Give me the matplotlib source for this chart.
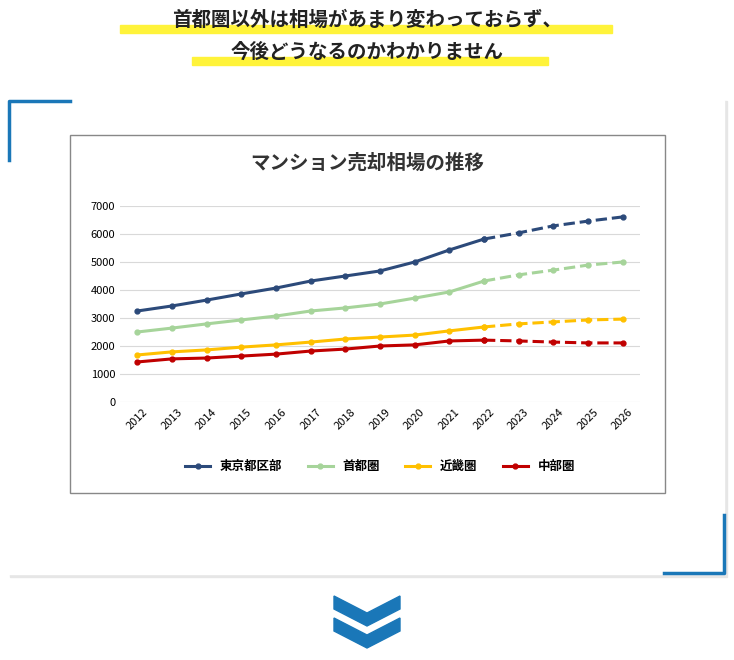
import matplotlib
matplotlib.use("Agg")
import matplotlib.pyplot as plt
from matplotlib.patches import Rectangle, Polygon

plt.rcParams["font.family"] = "Noto Sans CJK JP"

years = [str(y) for y in range(2012, 2027)]
tokyo = [3250, 3430, 3640, 3860, 4070, 4320, 4500, 4680, 5000, 5430, 5820, 6040, 6290, 6460, 6610]
shuto = [2500, 2640, 2790, 2930, 3070, 3250, 3360, 3500, 3710, 3930, 4320, 4540, 4710, 4890, 5000]
kinki = [1680, 1790, 1860, 1960, 2040, 2140, 2250, 2320, 2390, 2540, 2680, 2790, 2860, 2930, 2960]
chubu = [1430, 1540, 1570, 1640, 1710, 1820, 1890, 2000, 2040, 2180, 2210, 2180, 2140, 2110, 2110]
names = ["東京都区部", "首都圏", "近畿圏", "中部圏"]
colors = ["#2c4a7a", "#a6d49a", "#ffc000", "#c00000"]
split = 10  # index of 2022, forecast after

W, H = 734, 660
fig = plt.figure(figsize=(W / 100, H / 100), dpi=100)
fig.patch.set_facecolor("white")

def fx(x): return x / W
def fy(y): return 1 - y / H

# heading with highlighter
for txt, y, x0, x1 in [("首都圏以外は相場があまり変わっておらず、", 20, 120, 612),
                       ("今後どうなるのかわかりません", 52, 192, 548)]:
    fig.patches.append(Rectangle((fx(x0), fy(y + 13)), fx(x1 - x0), 8 / H,
                                 transform=fig.transFigure, color="#fff33a", zorder=1))
    fig.text(fx(367), fy(y), txt, ha="center", va="center", fontsize=14,
             fontweight="bold", color="#222222", zorder=2)

# card with shadow
fig.patches.append(Rectangle((fx(10), fy(577)), fx(717), 476 / H, transform=fig.transFigure,
                             color="#e6e6e6", zorder=0))
fig.patches.append(Rectangle((fx(8), fy(574)), fx(716), 474 / H, transform=fig.transFigure,
                             color="white", zorder=0.5))
blue = "#1a77b8"
fig.lines.append(plt.Line2D([fx(9), fx(9), fx(70)], [fy(160), fy(101), fy(101)],
                            transform=fig.transFigure, color=blue, lw=2.5))
fig.lines.append(plt.Line2D([fx(664), fx(724), fx(724)], [fy(573), fy(573), fy(515)],
                            transform=fig.transFigure, color=blue, lw=2.5))
# chart box
fig.patches.append(Rectangle((fx(70), fy(493)), fx(595), 358 / H, transform=fig.transFigure,
                             facecolor="white", edgecolor="#888888", lw=1, zorder=1))
fig.text(fx(367), fy(163), "マンション売却相場の推移", ha="center", va="center",
         fontsize=14, fontweight="bold", color="#333333", zorder=3)

# chevron
for dy in [0, 22]:
    fig.patches.append(Polygon([(fx(334), fy(596 + dy)), (fx(367), fy(613 + dy)), (fx(400), fy(596 + dy)),
                                (fx(400), fy(609 + dy)), (fx(367), fy(626 + dy)), (fx(334), fy(609 + dy))],
                               closed=True, transform=fig.transFigure, color=blue))

ax = fig.add_axes([fx(120), fy(402), fx(520), 196 / H], zorder=4)
ax.patch.set_alpha(0)
x = list(range(len(years)))
for vals, c, n in zip([tokyo, shuto, kinki, chubu], colors, names):
    ax.plot(x[:split + 1], vals[:split + 1], color=c, lw=2.2, marker="o", ms=3.5, label=n)
    ax.plot(x[split:], vals[split:], color=c, lw=2.2, ls="--", marker="o", ms=3.5)
ax.set_ylim(0, 7000)
ax.set_xlim(-0.5, len(years) - 0.5)
ax.set_yticks(range(0, 7001, 1000))
ax.set_xticks(x)
ax.set_xticklabels(years, rotation=45, fontsize=8)
ax.tick_params(axis="y", labelsize=8, length=0)
ax.tick_params(axis="x", length=0)
ax.grid(axis="y", color="#d9d9d9", lw=0.8)
ax.set_axisbelow(True)
for s in ax.spines.values():
    s.set_visible(False)
leg = ax.legend(loc="center", bbox_to_anchor=(0.5, -0.33), ncol=4, frameon=False,
                handlelength=2.0, columnspacing=2.0, prop={"size": 9, "weight": "bold"})

fig.savefig("out.png", dpi=100)
